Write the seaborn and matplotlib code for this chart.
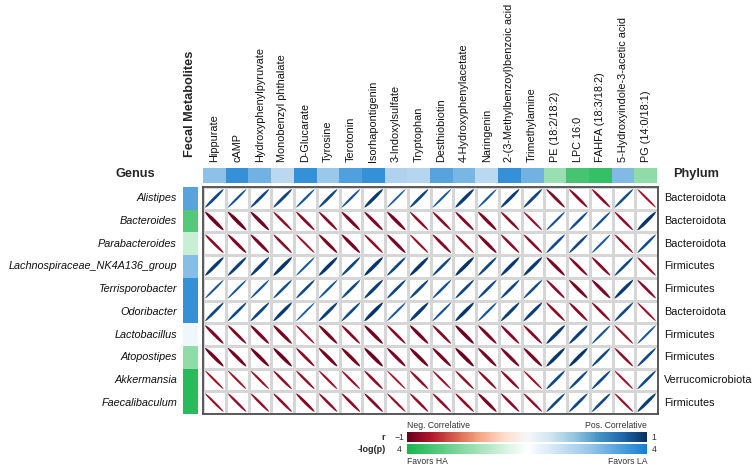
import numpy as np
import pandas as pd
import matplotlib
matplotlib.use("Agg")
import matplotlib.pyplot as plt
import seaborn as sns
from matplotlib.patches import Ellipse
from matplotlib.colors import LinearSegmentedColormap, ListedColormap, Normalize
from matplotlib.transforms import blended_transform_factory
import matplotlib.cm as cm

metabolites = ["Hippurate", "cAMP", "Hydroxyphenylpyruvate", "Monobenzyl phthalate",
               "D-Glucarate", "Tyrosine", "Terotonin", "Isorhapontigenin", "3-Indoxylsulfate",
               "Tryptophan", "Desthiobiotin", "4-Hydroxyphenylacetate", "Naringenin",
               "2-(3-Methylbenzoyl)benzoic acid", "Trimethylamine", "PE (18:2/18:2)",
               "LPC 16:0", "FAHFA (18:3/18:2)", "5-Hydroxyindole-3-acetic acid", "PG (14:0/18:1)"]
genera = ["Alistipes", "Bacteroides", "Parabacteroides", "Lachnospiraceae_NK4A136_group",
          "Terrisporobacter", "Odoribacter", "Lactobacillus", "Atopostipes",
          "Akkermansia", "Faecalibaculum"]
phyla = ["Bacteroidota", "Bacteroidota", "Bacteroidota", "Firmicutes", "Firmicutes",
         "Bacteroidota", "Firmicutes", "Firmicutes", "Verrucomicrobiota", "Firmicutes"]

# signed -log(p): negative = favors HA (green), positive = favors LA (blue)
metab_logp = [2.2, 3.5, 2.6, 1.4, 3.5, 2.0, 3.1, 3.5, 1.6, 1.5,
              3.0, 2.5, 1.4, 3.5, 2.6, -1.8, -3.2, -3.5, 2.4, -2.0]
genus_logp = [3.0, -3.0, -1.0, 2.3, 3.5, 3.5, 0.3, -2.0, -3.7, -3.7]

r_values = [
    [0.91, 0.86, 0.91, 0.92, 0.86, 0.91, 0.86, 0.96, 0.83, 0.91, 0.85, 0.96, 0.85, 0.94, 0.92, -0.92, -0.91, -0.90, 0.89, -0.85],
    [-0.98, -0.98, -0.97, -0.89, -0.91, -0.91, -0.95, -0.94, -0.96, -0.89, -0.90, -0.92, -0.95, -0.90, -0.86, 0.86, 0.89, 0.87, -0.89, 0.97],
    [-0.90, -0.94, -0.95, -0.90, -0.85, -0.94, -0.96, -0.89, -0.95, -0.86, -0.92, -0.89, -0.95, -0.90, -0.90, 0.90, 0.90, 0.85, -0.88, 0.89],
    [0.96, 0.94, 0.95, 0.98, 0.85, 0.97, 0.91, 0.98, 0.91, 0.97, 0.90, 0.98, 0.91, 0.96, 0.96, -0.95, -0.91, -0.91, 0.90, -0.88],
    [0.85, 0.85, 0.86, 0.89, 0.90, 0.86, 0.90, 0.95, 0.91, 0.91, 0.88, 0.91, 0.90, 0.91, 0.89, -0.90, -0.95, -0.95, 0.96, -0.90],
    [0.91, 0.90, 0.92, 0.96, 0.83, 0.94, 0.90, 0.98, 0.85, 0.96, 0.86, 0.97, 0.86, 0.94, 0.94, -0.90, -0.91, -0.90, 0.90, -0.85],
    [-0.94, -0.92, -0.95, -0.96, -0.86, -0.95, -0.91, -0.97, -0.90, -0.96, -0.91, -0.98, -0.94, -0.92, -0.91, 0.96, 0.94, 0.86, -0.86, 0.85],
    [-0.97, -0.96, -0.97, -0.98, -0.91, -0.96, -0.96, -0.99, -0.95, -0.97, -0.95, -0.99, -0.95, -0.95, -0.95, 0.97, 0.97, 0.90, -0.89, 0.90],
    [-0.85, -0.85, -0.86, -0.89, -0.88, -0.86, -0.86, -0.90, -0.83, -0.89, -0.85, -0.88, -0.89, -0.90, -0.85, 0.91, 0.90, 0.90, -0.85, 0.90],
    [-0.86, -0.88, -0.88, -0.89, -0.92, -0.89, -0.90, -0.91, -0.86, -0.89, -0.89, -0.89, -0.95, -0.90, -0.88, 0.90, 0.91, 0.90, -0.86, 0.95],
]

sns.set_theme(style="white")
plt.rcParams["font.family"] = ["Liberation Sans", "DejaVu Sans"]

W, H = 756, 466
fig = plt.figure(figsize=(W / 100, H / 100), dpi=100)


def ax_px(x0, y0, x1, y1):
    return fig.add_axes([x0 / W, 1 - y1 / H, (x1 - x0) / W, (y1 - y0) / H])


def ftext(x, y, s, **kw):
    fig.text(x / W, 1 - y / H, s, **kw)


r_cmap = plt.get_cmap("RdBu")
r_norm = Normalize(-1, 1)
p_cmap = LinearSegmentedColormap.from_list(
    "hala", ["#17b54f", "#8fdca9", "#ffffff", "#9cc9ea", "#1480d2"])
p_norm = Normalize(-4, 4)

FS = 7.8

# main grid
ax = ax_px(203, 187, 658, 414)
df = pd.DataFrame(r_values, index=genera, columns=metabolites)
sns.heatmap(df, cmap=ListedColormap(["white"]), cbar=False, linewidths=0.8,
            linecolor="#d6d6d6", xticklabels=False, yticklabels=False, ax=ax)
for s in ax.spines.values():
    s.set_visible(True)
    s.set_color("#4d4d4d")
    s.set_linewidth(1.3)
for i, g in enumerate(genera):
    for j, m in enumerate(metabolites):
        r = df.loc[g, m]
        w = 0.08 + (abs(r) - 0.82) * 0.5
        ax.add_patch(Ellipse((j + 0.5, i + 0.5), width=1.14, height=w,
                             angle=-45 if r > 0 else 45,
                             facecolor=r_cmap(r_norm(r)), edgecolor="none"))
tr = blended_transform_factory(ax.transAxes, ax.transData)
for i, p in enumerate(phyla):
    ax.text((664 - 203) / 455, i + 0.5, p, transform=tr, ha="left", va="center",
            fontsize=FS, color="#111111")

# top annotation strip
ax_top = ax_px(203, 168, 657, 183)
sns.heatmap(pd.DataFrame([metab_logp], columns=metabolites), cmap=p_cmap,
            vmin=-4, vmax=4, cbar=False, xticklabels=False, yticklabels=False, ax=ax_top)
trt = blended_transform_factory(ax_top.transData, ax_top.transAxes)
for j, m in enumerate(metabolites):
    ax_top.text(j + 0.5, 1 + 6 / 15, m, transform=trt, rotation=90, ha="center",
                va="bottom", fontsize=FS, color="#111111")

# left annotation strip
ax_left = ax_px(183, 187, 198, 414)
sns.heatmap(pd.DataFrame({"g": genus_logp}, index=genera), cmap=p_cmap,
            vmin=-4, vmax=4, cbar=False, xticklabels=False, yticklabels=False, ax=ax_left)
trl = blended_transform_factory(ax_left.transAxes, ax_left.transData)
for i, g in enumerate(genera):
    ax_left.text(-6 / 15, i + 0.5, g, transform=trl, ha="right", va="center",
                 fontsize=FS, style="italic", color="#111111")

ftext(190, 157, "Fecal Metabolites", rotation=90, ha="center", va="bottom",
      fontsize=9.2, fontweight="bold")
ftext(155, 174, "Genus", ha="right", va="center", fontsize=9.2, fontweight="bold")
ftext(673, 174, "Phylum", ha="left", va="center", fontsize=9.2, fontweight="bold")

# legends
cax1 = ax_px(407, 432, 647, 442)
cb1 = fig.colorbar(cm.ScalarMappable(norm=r_norm, cmap=r_cmap), cax=cax1,
                   orientation="horizontal")
cb1.outline.set_visible(False)
cb1.set_ticks([])
cax2 = ax_px(407, 444, 647, 454)
cb2 = fig.colorbar(cm.ScalarMappable(norm=p_norm, cmap=p_cmap), cax=cax2,
                   orientation="horizontal")
cb2.outline.set_visible(False)
cb2.set_ticks([])

lk = dict(fontsize=6.2, color="#333333", va="center")
ftext(407, 426, "Neg. Correlative", ha="left", **lk)
ftext(647, 426, "Pos. Correlative", ha="right", **lk)
ftext(407, 461, "Favors HA", ha="left", **lk)
ftext(647, 461, "Favors LA", ha="right", **lk)
ftext(385, 437, "r", ha="right", fontweight="bold", fontsize=6.5, va="center")
ftext(399, 437, "\u22121", ha="center", **lk)
ftext(654, 437, "1", ha="center", **lk)
ftext(386, 449, "-log(p)", ha="right", fontweight="bold", fontsize=6.5, va="center")
ftext(399, 449, "4", ha="center", **lk)
ftext(654, 449, "4", ha="center", **lk)

fig.savefig("out.png", dpi=100)
